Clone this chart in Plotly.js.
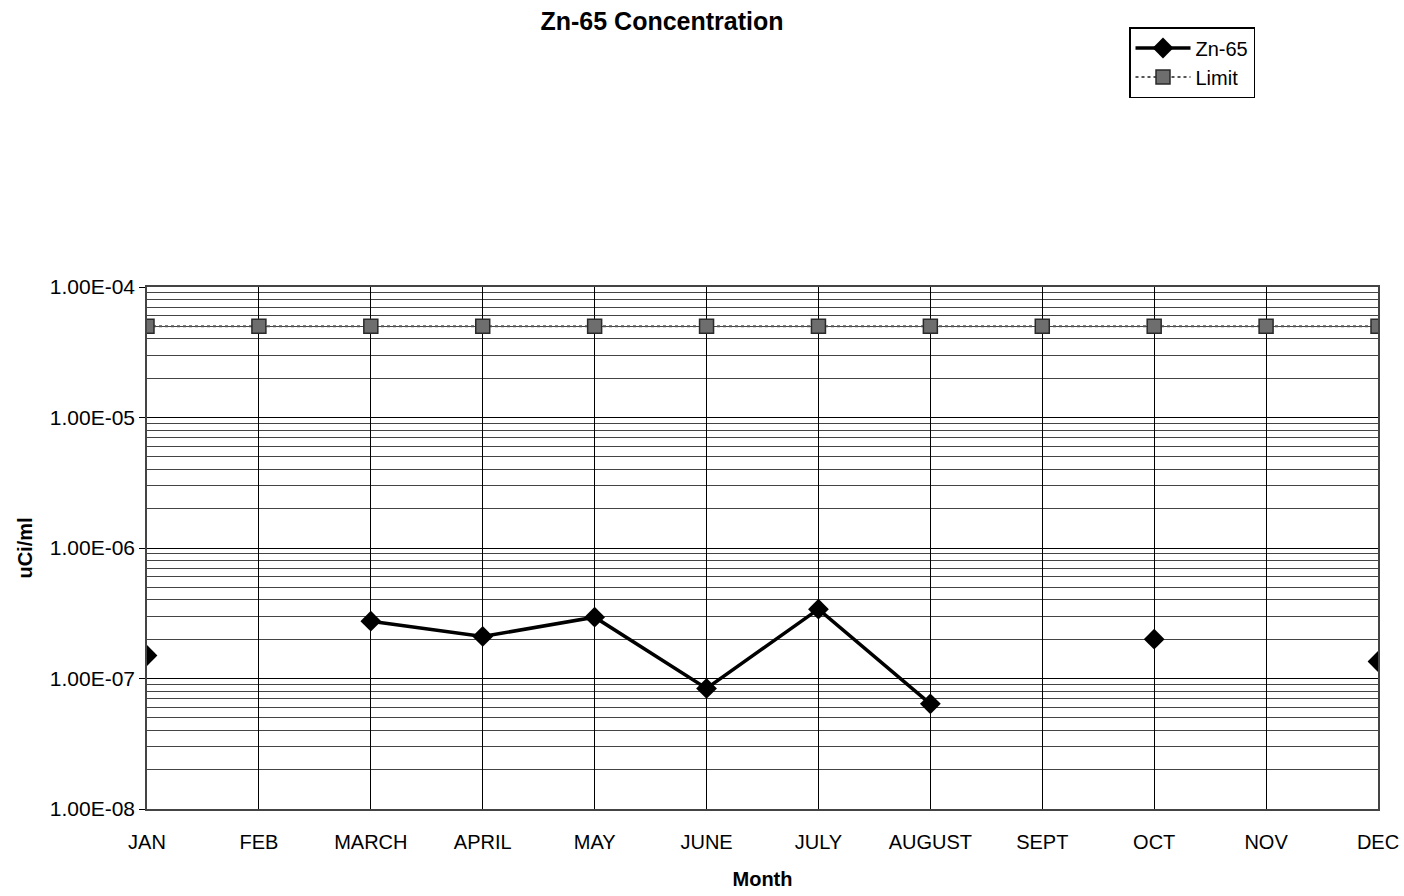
<!DOCTYPE html>
<html>
<head>
<meta charset="utf-8">
<script src="https://cdn.plot.ly/plotly-3.0.1.min.js"></script>
<style>html,body{margin:0;padding:0;background:#fff;}#chart{width:1404px;height:896px;}</style>
</head>
<body>
<div id="chart"></div>
<script>
const months = ["JAN","FEB","MARCH","APRIL","MAY","JUNE","JULY","AUGUST","SEPT","OCT","NOV","DEC"];
const zn65 = [1.5e-7, null, 2.75e-7, 2.1e-7, 2.95e-7, 8.4e-8, 3.4e-7, 6.4e-8, null, 2.0e-7, null, 1.35e-7];
const limit = [5e-5, 5e-5, 5e-5, 5e-5, 5e-5, 5e-5, 5e-5, 5e-5, 5e-5, 5e-5, 5e-5, 5e-5];
const yTickVals = [1e-8, 1e-7, 1e-6, 1e-5, 1e-4];
const yTickText = ["1.00E-08","1.00E-07","1.00E-06","1.00E-05","1.00E-04"];

const minorVals = [];
for (let e = -8; e < -4; e++) for (let d = 2; d <= 9; d++) minorVals.push(d * Math.pow(10, e));

const font = "Liberation Sans, Arial, sans-serif";
const traces = [
  {x: months, y: zn65, name: "Zn-65", type: "scatter", mode: "lines+markers", connectgaps: false,
   line: {color: "#000", width: 3.5}, marker: {symbol: "diamond", size: 16, color: "#000"}},
  {x: months, y: limit, name: "Limit", type: "scatter", mode: "lines+markers",
   line: {color: "#555", width: 2, dash: "dot"},
   marker: {symbol: "square", size: 14, color: "#6e6e6e", line: {color: "#2a2a2a", width: 1.5}}}
];
const layout = {
  width: 1404, height: 896,
  paper_bgcolor: "#fff", plot_bgcolor: "#fff",
  margin: {l: 147, r: 26, t: 287, b: 87, autoexpand: false},
  font: {family: font, color: "#000", size: 20},
  title: {text: "<b>Zn-65 Concentration</b>", font: {size: 25, family: font}, x: 662/1404, xref: "container", xanchor: "center", y: 1 - 21/896, yref: "container", yanchor: "middle"},
  showlegend: true,
  legend: {x: 1129/1404, y: 1 - 27/896, xref: "container", yref: "container", xanchor: "left", yanchor: "top",
    bordercolor: "#000", borderwidth: 1.5, bgcolor: "#fff", font: {size: 20}, tracegroupgap: 4, itemwidth: 55},
  xaxis: {type: "category", range: [0, 11], showgrid: true, gridcolor: "#000", gridwidth: 1,
    ticks: "", ticklabelstandoff: 14, showline: true, linecolor: "#444", linewidth: 1.5, mirror: true, zeroline: false,
    tickfont: {size: 20},
    title: {text: "<b>Month</b>", font: {size: 20}, standoff: 20}},
  yaxis: {type: "log", range: [-8, -4], tickvals: yTickVals, ticktext: yTickText,
    showgrid: true, gridcolor: "#000", gridwidth: 1.2, ticks: "outside", ticklen: 6, tickcolor: "#000",
    showline: true, linecolor: "#444", linewidth: 1.5, mirror: true, tickfont: {size: 21},
    minor: {tickvals: minorVals, showgrid: true, gridcolor: "#444", gridwidth: 1, ticks: ""},
    title: {text: "<b>uCi/ml</b>", font: {size: 20}, standoff: 12}}
};
Plotly.newPlot("chart", traces, layout, {displayModeBar: false});
</script>
</body>
</html>
